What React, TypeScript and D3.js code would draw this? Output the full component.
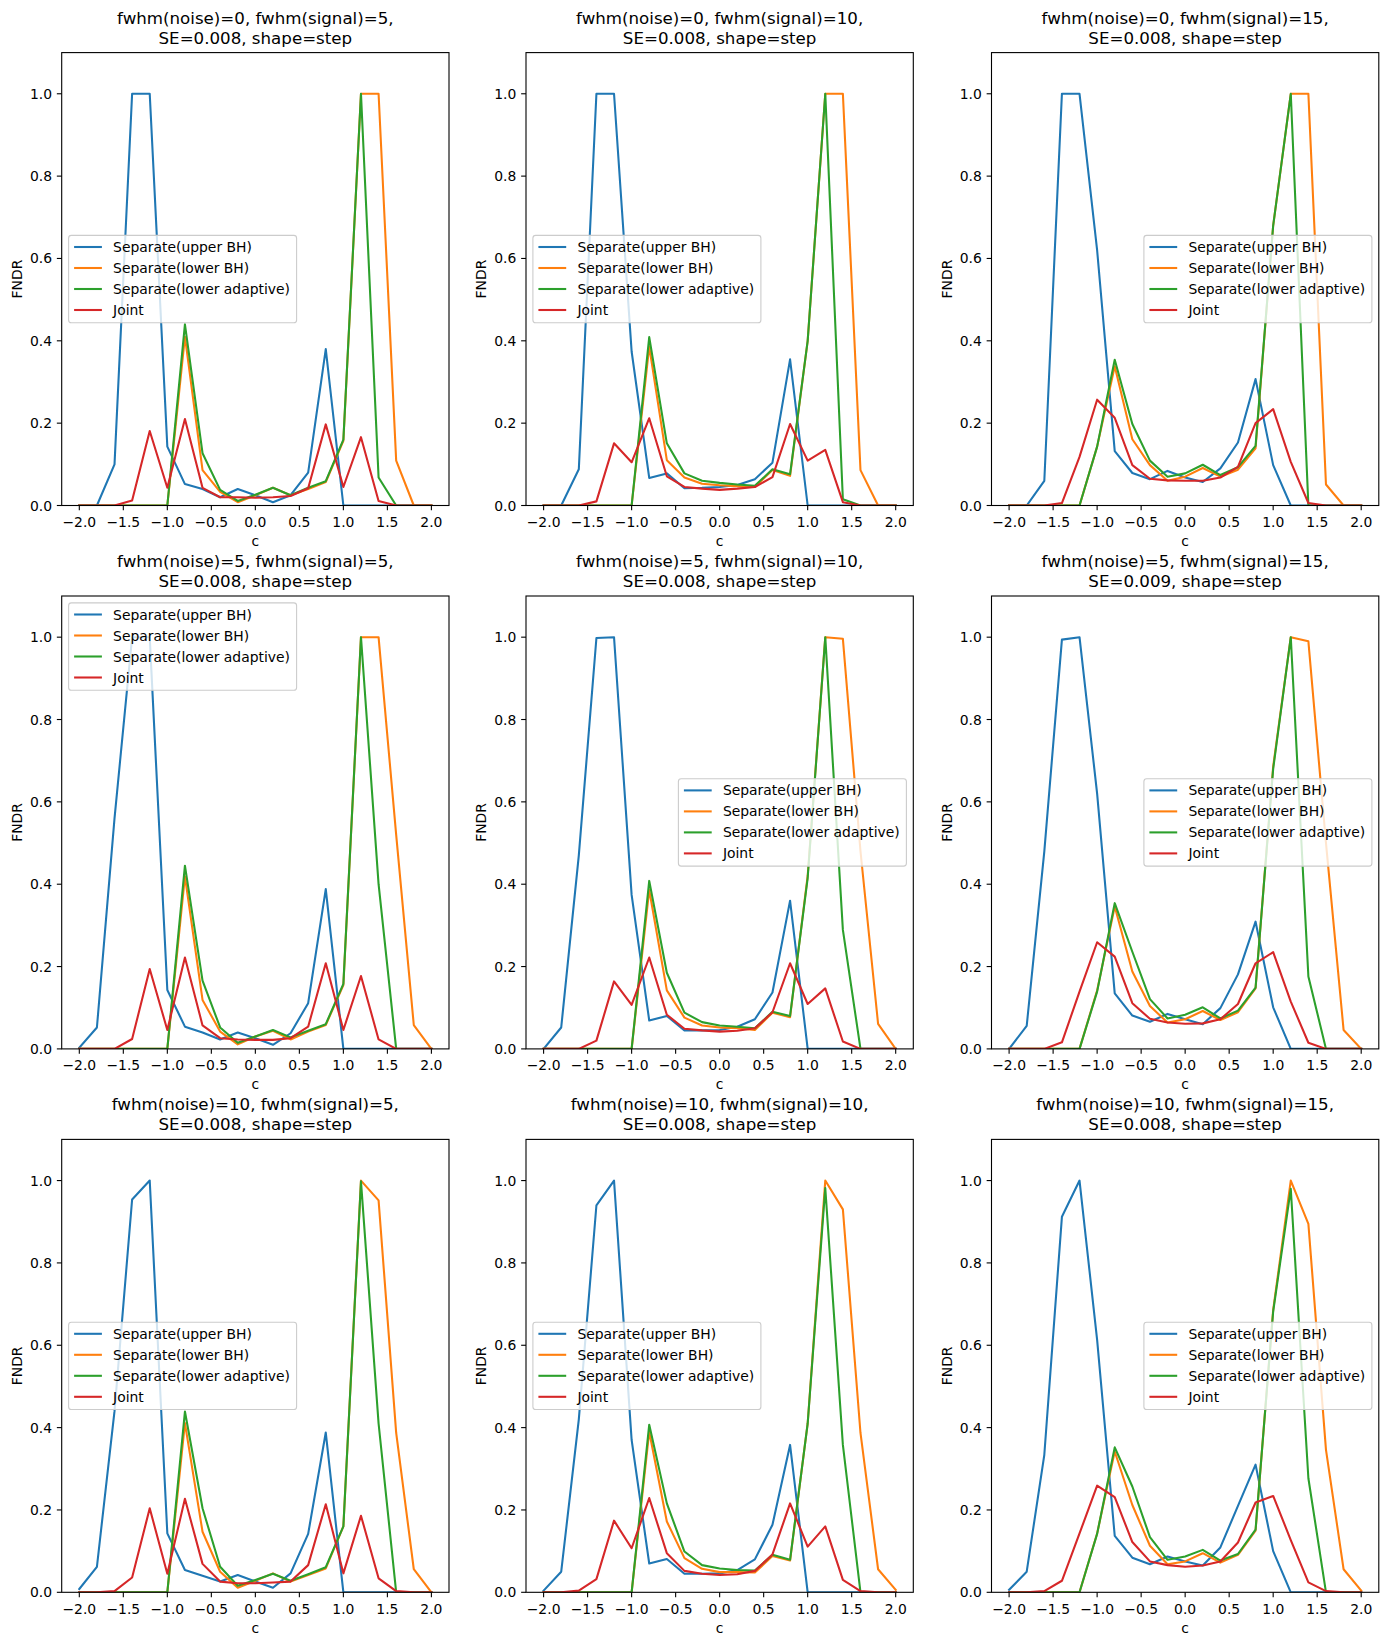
import * as d3 from 'd3'

const C_VALUES = [-2.0, -1.8, -1.6, -1.4, -1.2, -1.0, -0.8, -0.6, -0.4, -0.2, 0.0, 0.2, 0.4, 0.6, 0.8, 1.0, 1.2, 1.4, 1.6, 1.8, 2.0]
const X_TICKS = [-2.0, -1.5, -1.0, -0.5, 0.0, 0.5, 1.0, 1.5, 2.0]
const Y_TICKS = [0.0, 0.2, 0.4, 0.6, 0.8, 1.0]

const NOISE_FWHM = [0, 5, 10]
const SIGNAL_FWHM = [5, 10, 15]
// one SE per panel, row by row
const SE_VALUES = [0.008, 0.008, 0.008, 0.008, 0.008, 0.009, 0.008, 0.008, 0.008]

const SERIES_LABELS = ['Separate(upper BH)', 'Separate(lower BH)', 'Separate(lower adaptive)', 'Joint']
const COLORS = ['#1f77b4', '#ff7f0e', '#2ca02c', '#d62728']

// panels row by row: noise 0 (signal 5, 10, 15), noise 5, noise 10
const UPPER_BH = [
  [0, 0, 0.10, 1, 1, 0.143, 0.052, 0.04, 0.02, 0.04, 0.025, 0.008, 0.025, 0.08, 0.38, 0, 0, 0, 0, 0, 0],
  [0, 0, 0.088, 1, 1, 0.374, 0.067, 0.078, 0.042, 0.043, 0.045, 0.05, 0.064, 0.104, 0.355, 0, 0, 0, 0, 0, 0],
  [0, 0, 0.06, 1, 1, 0.62, 0.132, 0.079, 0.064, 0.084, 0.068, 0.057, 0.09, 0.153, 0.307, 0.098, 0, 0, 0, 0, 0],
  [0.003, 0.052, 0.56, 1, 1, 0.143, 0.054, 0.04, 0.023, 0.04, 0.026, 0.01, 0.038, 0.111, 0.388, 0, 0, 0, 0, 0, 0],
  [0, 0.052, 0.47, 0.998, 1, 0.374, 0.069, 0.08, 0.045, 0.045, 0.046, 0.054, 0.072, 0.137, 0.36, 0, 0, 0, 0, 0, 0],
  [0, 0.056, 0.48, 0.994, 1, 0.62, 0.135, 0.081, 0.066, 0.085, 0.072, 0.06, 0.099, 0.181, 0.309, 0.101, 0, 0, 0, 0, 0],
  [0.008, 0.062, 0.44, 0.954, 1, 0.143, 0.054, 0.04, 0.026, 0.042, 0.026, 0.011, 0.046, 0.142, 0.388, 0, 0, 0, 0, 0, 0],
  [0.004, 0.05, 0.42, 0.94, 1, 0.37, 0.07, 0.081, 0.045, 0.045, 0.046, 0.054, 0.08, 0.164, 0.358, 0, 0, 0, 0, 0, 0],
  [0.006, 0.05, 0.334, 0.912, 1, 0.613, 0.137, 0.084, 0.068, 0.087, 0.075, 0.065, 0.109, 0.21, 0.31, 0.1, 0, 0, 0, 0, 0],
]

const LOWER_BH = [
  [0, 0, 0, 0, 0, 0, 0.41, 0.086, 0.033, 0.008, 0.025, 0.043, 0.025, 0.04, 0.057, 0.157, 1, 1, 0.109, 0, 0],
  [0, 0, 0, 0, 0, 0, 0.386, 0.11, 0.068, 0.053, 0.049, 0.047, 0.045, 0.086, 0.072, 0.40, 1, 1, 0.086, 0, 0],
  [0, 0, 0, 0, 0, 0.143, 0.338, 0.161, 0.098, 0.06, 0.07, 0.091, 0.07, 0.087, 0.139, 0.68, 1, 1, 0.051, 0, 0],
  [0, 0, 0, 0, 0, 0, 0.419, 0.119, 0.042, 0.011, 0.03, 0.044, 0.023, 0.042, 0.058, 0.155, 1, 1, 0.52, 0.058, 0],
  [0, 0, 0, 0, 0, 0, 0.386, 0.142, 0.076, 0.057, 0.052, 0.05, 0.046, 0.088, 0.077, 0.42, 1, 0.996, 0.48, 0.061, 0],
  [0, 0, 0, 0, 0, 0.142, 0.346, 0.188, 0.104, 0.064, 0.072, 0.092, 0.07, 0.089, 0.147, 0.686, 1, 0.99, 0.5, 0.046, 0],
  [0, 0, 0, 0, 0, 0, 0.411, 0.147, 0.05, 0.011, 0.028, 0.046, 0.026, 0.042, 0.058, 0.16, 1, 0.952, 0.387, 0.056, 0],
  [0, 0, 0, 0, 0, 0, 0.39, 0.172, 0.083, 0.057, 0.049, 0.049, 0.048, 0.088, 0.077, 0.41, 1, 0.93, 0.387, 0.056, 0.006],
  [0, 0, 0, 0, 0, 0.143, 0.342, 0.212, 0.113, 0.068, 0.075, 0.095, 0.072, 0.091, 0.15, 0.686, 1, 0.895, 0.346, 0.056, 0.004],
]

const LOWER_ADAPTIVE = [
  [0, 0, 0, 0, 0, 0, 0.44, 0.127, 0.038, 0.011, 0.026, 0.043, 0.025, 0.043, 0.059, 0.16, 1, 0.068, 0, 0, 0],
  [0, 0, 0, 0, 0, 0, 0.409, 0.151, 0.078, 0.06, 0.055, 0.051, 0.048, 0.088, 0.076, 0.40, 1, 0.015, 0, 0, 0],
  [0, 0, 0, 0, 0, 0.143, 0.354, 0.198, 0.109, 0.07, 0.078, 0.099, 0.074, 0.093, 0.145, 0.68, 1, 0, 0, 0, 0],
  [0, 0, 0, 0, 0, 0, 0.445, 0.166, 0.052, 0.015, 0.03, 0.046, 0.028, 0.044, 0.06, 0.158, 1, 0.40, 0, 0, 0],
  [0, 0, 0, 0, 0, 0, 0.408, 0.185, 0.088, 0.065, 0.057, 0.054, 0.05, 0.09, 0.08, 0.415, 1, 0.289, 0, 0, 0],
  [0, 0, 0, 0, 0, 0.139, 0.354, 0.236, 0.121, 0.074, 0.083, 0.101, 0.074, 0.093, 0.149, 0.68, 1, 0.176, 0, 0, 0],
  [0, 0, 0, 0, 0, 0, 0.439, 0.204, 0.062, 0.016, 0.03, 0.045, 0.028, 0.044, 0.061, 0.16, 0.998, 0.41, 0, 0, 0],
  [0, 0, 0, 0, 0, 0, 0.407, 0.216, 0.099, 0.066, 0.058, 0.054, 0.053, 0.091, 0.079, 0.41, 0.982, 0.358, 0, 0, 0],
  [0, 0, 0, 0, 0, 0.142, 0.352, 0.257, 0.134, 0.079, 0.087, 0.103, 0.077, 0.093, 0.152, 0.682, 0.98, 0.277, 0, 0, 0],
]

const JOINT = [
  [0, 0, 0, 0.012, 0.181, 0.043, 0.21, 0.043, 0.02, 0.02, 0.019, 0.02, 0.023, 0.042, 0.197, 0.045, 0.166, 0.011, 0, 0, 0],
  [0, 0, 0, 0.01, 0.151, 0.105, 0.212, 0.071, 0.045, 0.041, 0.038, 0.041, 0.045, 0.069, 0.198, 0.109, 0.135, 0.008, 0, 0, 0],
  [0, 0, 0, 0.006, 0.118, 0.257, 0.213, 0.098, 0.065, 0.061, 0.06, 0.06, 0.068, 0.094, 0.2, 0.234, 0.106, 0.006, 0, 0, 0],
  [0, 0, 0, 0.024, 0.194, 0.046, 0.222, 0.057, 0.026, 0.023, 0.022, 0.022, 0.026, 0.054, 0.208, 0.046, 0.177, 0.023, 0, 0, 0],
  [0, 0, 0, 0.02, 0.164, 0.107, 0.222, 0.083, 0.049, 0.045, 0.042, 0.044, 0.05, 0.089, 0.208, 0.109, 0.147, 0.018, 0, 0, 0],
  [0, 0, 0, 0.016, 0.139, 0.259, 0.224, 0.111, 0.073, 0.064, 0.061, 0.062, 0.072, 0.109, 0.208, 0.235, 0.115, 0.015, 0, 0, 0],
  [0, 0, 0.003, 0.036, 0.204, 0.045, 0.227, 0.069, 0.026, 0.022, 0.022, 0.024, 0.026, 0.066, 0.214, 0.046, 0.186, 0.034, 0.003, 0, 0],
  [0, 0, 0.004, 0.032, 0.174, 0.107, 0.229, 0.095, 0.052, 0.045, 0.042, 0.044, 0.052, 0.092, 0.216, 0.111, 0.16, 0.03, 0.003, 0, 0],
  [0, 0, 0.003, 0.028, 0.143, 0.259, 0.231, 0.122, 0.075, 0.066, 0.062, 0.065, 0.075, 0.121, 0.218, 0.234, 0.127, 0.024, 0.003, 0, 0],
]

// where matplotlib's loc='best' put each legend
const LEGEND_LOC = ['center left', 'center left', 'center right', 'upper left', 'center right', 'center right', 'center left', 'center left', 'center right']

const WIDTH = 1388
const HEIGHT = 1646
const AX_LEFTS = [61.7, 526, 991.5]
const AX_TOPS = [52.6, 596, 1139.4]
const AX_W = 387.3
const AX_H = 452.9
const FONT = 'DejaVu Sans'
const TICK_FS = 13.9
const TITLE_FS = 16.67
const LEG_W = 228
const LEG_H = 87.3
const LEG_PAD = 6.9

const fmtX = (v: number) => (v < 0 ? '\u2212' : '') + Math.abs(v).toFixed(1)

function Panel({ idx }: { idx: number }) {
  const row = Math.floor(idx / 3)
  const col = idx % 3
  const left = AX_LEFTS[col]
  const top = AX_TOPS[row]
  const right = left + AX_W
  const bottom = top + AX_H

  const x = d3.scaleLinear().domain([-2.2, 2.2]).range([left, right])
  const y = d3.scaleLinear().domain([0, 1.1]).range([bottom, top])
  const line = d3
    .line<number>()
    .x((_d, i) => x(C_VALUES[i]))
    .y((d) => y(d))

  const series = [UPPER_BH[idx], LOWER_BH[idx], LOWER_ADAPTIVE[idx], JOINT[idx]]

  const loc = LEGEND_LOC[idx]
  const lx = loc.endsWith('left') ? left + LEG_PAD : right - LEG_PAD - LEG_W
  const ly = loc.startsWith('upper') ? top + LEG_PAD : (top + bottom) / 2 - LEG_H / 2

  const clipId = `clip-${idx}`

  return (
    <g>
      <defs>
        <clipPath id={clipId}>
          <rect x={left} y={top} width={AX_W} height={AX_H} />
        </clipPath>
      </defs>
      <text x={(left + right) / 2} textAnchor="middle" fontSize={TITLE_FS} fill="#000">
        <tspan x={(left + right) / 2} y={top - 29}>
          {`fwhm(noise)=${NOISE_FWHM[row]}, fwhm(signal)=${SIGNAL_FWHM[col]},`}
        </tspan>
        <tspan x={(left + right) / 2} y={top - 9}>
          {`SE=${SE_VALUES[idx].toFixed(3)}, shape=step`}
        </tspan>
      </text>

      <g clipPath={`url(#${clipId})`}>
        {series.map((s, k) => (
          <path key={k} d={line(s) ?? ''} fill="none" stroke={COLORS[k]} strokeWidth={2.08} strokeLinejoin="round" strokeLinecap="square" />
        ))}
      </g>

      <rect x={left} y={top} width={AX_W} height={AX_H} fill="none" stroke="#000" strokeWidth={1.1} />

      {X_TICKS.map((t) => (
        <g key={t}>
          <line x1={x(t)} x2={x(t)} y1={bottom} y2={bottom + 4.86} stroke="#000" strokeWidth={1.1} />
          <text x={x(t)} y={bottom + 21.5} textAnchor="middle" fontSize={TICK_FS}>
            {fmtX(t)}
          </text>
        </g>
      ))}
      {Y_TICKS.map((t) => (
        <g key={t}>
          <line x1={left - 4.86} x2={left} y1={y(t)} y2={y(t)} stroke="#000" strokeWidth={1.1} />
          <text x={left - 9.7} y={y(t)} dy="0.36em" textAnchor="end" fontSize={TICK_FS}>
            {t.toFixed(1)}
          </text>
        </g>
      ))}
      <text x={(left + right) / 2} y={bottom + 40.5} textAnchor="middle" fontSize={TICK_FS}>
        c
      </text>
      <text
        transform={`translate(${left - 40},${(top + bottom) / 2}) rotate(-90)`}
        textAnchor="middle"
        fontSize={TICK_FS}
      >
        FNDR
      </text>

      <g>
        <rect x={lx} y={ly} width={LEG_W} height={LEG_H} rx={2.8} fill="#fff" fillOpacity={0.8} stroke="#cccccc" strokeWidth={1.1} />
        {SERIES_LABELS.map((label, k) => {
          const cy = ly + 11.6 + 21 * k
          return (
            <g key={label}>
              <line x1={lx + 5.5} x2={lx + 33.3} y1={cy} y2={cy} stroke={COLORS[k]} strokeWidth={2.08} />
              <text x={lx + 44.5} y={cy} dy="0.36em" fontSize={TICK_FS}>
                {label}
              </text>
            </g>
          )
        })}
      </g>
    </g>
  )
}

export default function App() {
  const panels = d3.range(9)
  return (
    <>
      <style>{'body{margin:0}'}</style>
      <svg width={WIDTH} height={HEIGHT} style={{ display: 'block', fontFamily: FONT, background: '#fff' }}>
        <rect width={WIDTH} height={HEIGHT} fill="#fff" />
        {panels.map((i) => (
          <Panel key={i} idx={i} />
        ))}
      </svg>
    </>
  )
}
